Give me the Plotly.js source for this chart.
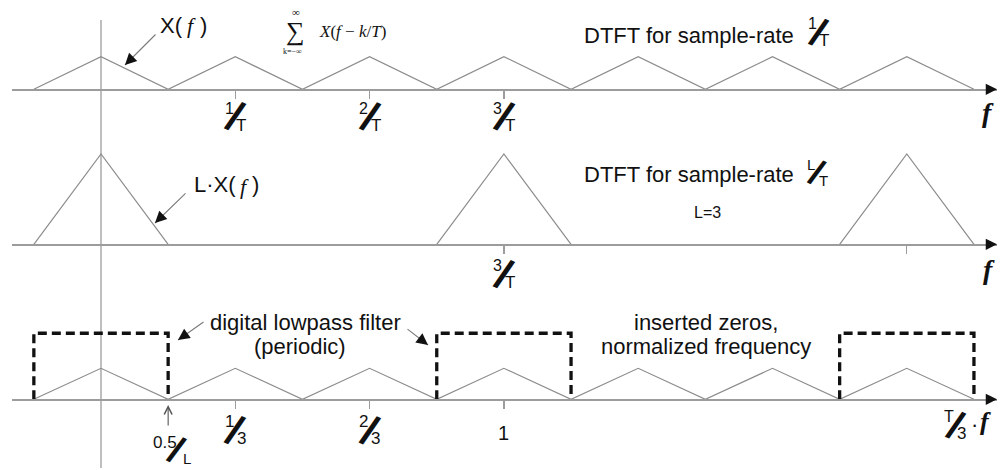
<!DOCTYPE html>
<html>
<head>
<meta charset="utf-8">
<script src="https://cdn.plot.ly/plotly-3.0.1.min.js"></script>
<style>
  html, body { margin: 0; padding: 0; background: #ffffff; }
  #chart { width: 1003px; height: 470px; }
</style>
</head>
<body>
<div id="chart"></div>
<script>
// ---- data -------------------------------------------------------------
// Spectrum images after sampling at 1/T (frequency in units of 1/T)
const sampledF   = [-0.5, 0, 0.5, 1, 1.5, 2, 2.5, 3, 3.5, 4, 4.5, 5, 5.5, 6, 6.5];
const sampledMag = [0, 1, 0, 1, 0, 1, 0, 1, 0, 1, 0, 1, 0, 1, 0];

// Spectrum at the rate L/T (L = 3): images only every 3/T, gain L
const upF   = [-0.5, 0, 0.5, null, 2.5, 3, 3.5, null, 5.5, 6, 6.5];
const upMag = [0, 3, 0, null, 0, 3, 0, null, 0, 3, 0];

// Zero-inserted sequence, frequency normalized as T/3 * f
const zerosNu  = [-1/6, 0, 1/6, 1/3, 1/2, 2/3, 5/6, 1, 7/6, 4/3, 3/2, 5/3, 11/6, 2, 13/6];
const zerosMag = [0, 1, 0, 1, 0, 1, 0, 1, 0, 1, 0, 1, 0, 1, 0];

// Periodic digital lowpass filter (normalized frequency)
const filterNu  = [-1/6, -1/6, 1/6, 1/6, null, 5/6, 5/6, 7/6, 7/6, null, 11/6, 11/6, 13/6, 13/6];
const filterMag = [0, 2.13, 2.13, 0, null, 0, 2.13, 2.13, 0, null, 0, 2.13, 2.13, 0];

// Tick positions and their labels ("num/den" is drawn as a slanted fraction)
const topTickVals = [1, 2, 3];
const topTickText = ['1/T', '2/T', '3/T'];
const midTickVals = [3, 6];
const midTickText = ['3/T', ''];
const lowTickVals = [1/3, 2/3, 1];
const lowTickText = ['1/3', '2/3', '1'];

// ---- helpers ----------------------------------------------------------
const W = 1003, H = 470;
const px = v => v / W;
const py = v => 1 - v / H;

const SANS = 'Liberation Sans, Arial, sans-serif';
const SERIF = 'Liberation Serif, Times New Roman, serif';
const GREY = '#8c8c8c';
const AXIS_GREY = '#9c9c9c';
const INK = '#111111';

function text(t, x, y, size, extra) {
  return Object.assign({
    text: t, xref: 'paper', yref: 'paper', x: px(x), y: py(y),
    xanchor: 'center', yanchor: 'middle', showarrow: false,
    font: { family: SANS, size: size, color: INK }
  }, extra || {});
}
function serifText(t, x, y, size, extra) {
  return text(t, x, y, size, Object.assign({ font: { family: SERIF, size: size, color: INK } }, extra || {}));
}

// slanted fraction "num/den" centred at pixel (cx, cy);
// xref/xval optionally pin the horizontal centre to a data value
function fraction(label, cx, cy, opts) {
  const o = Object.assign({ num: 16, den: 17, bar: 42, angle: 24, dx: 6, dy: 8.5, xref: null, xval: null }, opts || {});
  const parts = label.split('/');
  const place = (ann, offX) => {
    if (o.xref) { ann.xref = o.xref; ann.x = o.xval; ann.xshift = offX; }
    else { ann.x = px(cx + offX); }
    return ann;
  };
  if (parts.length < 2) {
    return [place(text(label, cx, cy, 20), 0)];
  }
  return [
    place(text(parts[0], cx, cy - o.dy, o.num), -o.dx),
    place(text('<b>/</b>', cx, cy, o.bar, { textangle: o.angle }), 0),
    place(text(parts[1], cx, cy + o.dy, o.den), o.dx)
  ];
}

// pointer arrow: grey shaft with a black head
function pointer(hx, hy, tx, ty) {
  return [
    { text: '', xref: 'paper', yref: 'paper', x: px(hx), y: py(hy),
      ax: tx - hx, ay: ty - hy, showarrow: true, arrowhead: 0,
      arrowwidth: 1.1, arrowcolor: '#7a7a7a' },
    { text: '', xref: 'paper', yref: 'paper', x: px(hx), y: py(hy),
      ax: (tx - hx) * 0.25, ay: (ty - hy) * 0.25, showarrow: true, arrowhead: 2,
      arrowsize: 2.1, arrowwidth: 1.1, arrowcolor: INK }
  ];
}

// ---- axes geometry ----------------------------------------------------
const xDomain = [px(12), px(997)];
const fRange = [-0.6627, 6.6716];
const nuRange = [fRange[0] / 3, fRange[1] / 3];

function xAxis(anchor, range, vals) {
  return {
    anchor: anchor, domain: xDomain, range: range,
    showline: true, linecolor: AXIS_GREY, linewidth: 1.5,
    showgrid: false, zeroline: false,
    ticks: 'outside', ticklen: 8, tickwidth: 1.2, tickcolor: AXIS_GREY,
    tickmode: 'array', tickvals: vals, showticklabels: false,
    fixedrange: true
  };
}
function yAxis(top, base, range) {
  return { domain: [py(base), py(top)], range: range, visible: false, fixedrange: true };
}

// ---- traces -----------------------------------------------------------
const traces = [
  { x: sampledF, y: sampledMag, xaxis: 'x', yaxis: 'y', mode: 'lines',
    line: { color: GREY, width: 1.2 }, hoverinfo: 'skip' },
  { x: upF, y: upMag, xaxis: 'x2', yaxis: 'y2', mode: 'lines',
    line: { color: GREY, width: 1.2 }, hoverinfo: 'skip' },
  { x: zerosNu, y: zerosMag, xaxis: 'x3', yaxis: 'y3', mode: 'lines',
    line: { color: GREY, width: 1.2 }, hoverinfo: 'skip' },
  { x: filterNu, y: filterMag, xaxis: 'x3', yaxis: 'y3', mode: 'lines',
    line: { color: INK, width: 3.3, dash: '9px,5px' }, hoverinfo: 'skip' }
];

// ---- annotations ------------------------------------------------------
const annotations = [];

// tick labels, drawn as slanted fractions below each tick
topTickVals.forEach((v, i) => annotations.push(...fraction(topTickText[i], 0, 117, { xref: 'x', xval: v })));
midTickVals.forEach((v, i) => { if (midTickText[i]) annotations.push(...fraction(midTickText[i], 0, 274, { xref: 'x2', xval: v })); });
lowTickVals.forEach((v, i) => annotations.push(...fraction(lowTickText[i], 0, lowTickText[i].includes('/') ? 430 : 433,
  { xref: 'x3', xval: v, num: 17, den: 17 })));

// arrow tips on the three frequency axes
[['x', 'y', fRange[1]], ['x2', 'y2', fRange[1]], ['x3', 'y3', nuRange[1]]].forEach(([xr, yr, xe]) => {
  annotations.push({ text: '', xref: xr, yref: yr, x: xe, y: 0, ax: -8, ay: 0,
    showarrow: true, arrowhead: 2, arrowsize: 1.5, arrowwidth: 1.5, arrowcolor: INK });
});

// axis names
annotations.push(serifText('<b><i>f</i></b>', 988, 113, 28));
annotations.push(serifText('<b><i>f</i></b>', 989, 269, 28));
annotations.push(...fraction('T/3', 955, 425, { num: 16, den: 17, bar: 40 }));
annotations.push(text('·', 974, 424, 22));
annotations.push(serifText('<b><i>f</i></b>', 985, 421, 26));

// top panel labels
annotations.push(text('X(', 185, 25, 22, { xanchor: 'right' }));
annotations.push(serifText('<i>f</i>', 191, 26, 22));
annotations.push(text(')', 198, 25, 22, { xanchor: 'left' }));
annotations.push(...pointer(125, 65, 157, 33));
annotations.push(serifText('∑', 295, 31, 26));
annotations.push(serifText('∞', 296, 12, 11));
annotations.push(serifText('k=−∞', 292, 52, 8));
annotations.push(serifText('<i>X</i>(<i>f</i> − <i>k</i>/<i>T</i>)', 352, 32, 17));
annotations.push(text('DTFT for sample-rate', 582, 35, 22, { xanchor: 'left' }));
annotations.push(...fraction('1/T', 818, 32, { bar: 40 }));

// middle panel labels
annotations.push(text('L·X(', 238, 185, 22, { xanchor: 'right' }));
annotations.push(serifText('<i>f</i>', 244, 186, 22));
annotations.push(text(')', 250, 185, 22, { xanchor: 'left' }));
annotations.push(...pointer(155, 223, 187, 192));
annotations.push(text('DTFT for sample-rate', 582, 174, 22, { xanchor: 'left' }));
annotations.push(...fraction('L/T', 817, 172, { num: 15, den: 15, bar: 36, angle: 26, dy: 8 }));
annotations.push(text('L=3', 707, 212, 16));

// bottom panel labels
annotations.push(text('digital lowpass filter', 305, 322, 22));
annotations.push(text('(periodic)', 300, 346, 22));
annotations.push(...pointer(178, 340, 205, 321));
annotations.push(...pointer(428, 345, 406, 328));
annotations.push(text('inserted zeros,', 706, 322, 22));
annotations.push(text('normalized frequency', 706, 346, 22));
annotations.push(...fraction('0.5/L', 176, 450, { num: 17, den: 15, bar: 38, angle: 26, dx: 11, dy: 8 }));
annotations.push({ text: '', xref: 'x3', yref: 'paper', x: 1/6, y: py(405), ax: 0, ay: 22,
  showarrow: true, arrowhead: 5, arrowsize: 1.4, arrowwidth: 1.1, arrowcolor: '#555555' });

// ---- layout -----------------------------------------------------------
const layout = {
  width: W, height: H,
  margin: { l: 0, r: 0, t: 0, b: 0 },
  paper_bgcolor: '#ffffff', plot_bgcolor: 'rgba(0,0,0,0)',
  showlegend: false, hovermode: false,
  xaxis:  xAxis('y',  fRange,  topTickVals),
  xaxis2: xAxis('y2', fRange,  midTickVals),
  xaxis3: xAxis('y3', nuRange, lowTickVals),
  yaxis:  yAxis(0,   89.3,  [0, 89.3 / 32.6]),
  yaxis2: yAxis(140, 244.3, [0, 104.3 / 30.1]),
  yaxis3: yAxis(300, 399.3, [0, 99.3 / 31]),
  shapes: [
    // vertical frequency-origin axis
    { type: 'line', xref: 'x', yref: 'paper', x0: 0, x1: 0, y0: py(468), y1: py(20),
      line: { color: AXIS_GREY, width: 1.3 }, layer: 'below' }
  ],
  annotations: annotations
};

Plotly.newPlot('chart', traces, layout, { staticPlot: true, displayModeBar: false });
</script>
</body>
</html>
